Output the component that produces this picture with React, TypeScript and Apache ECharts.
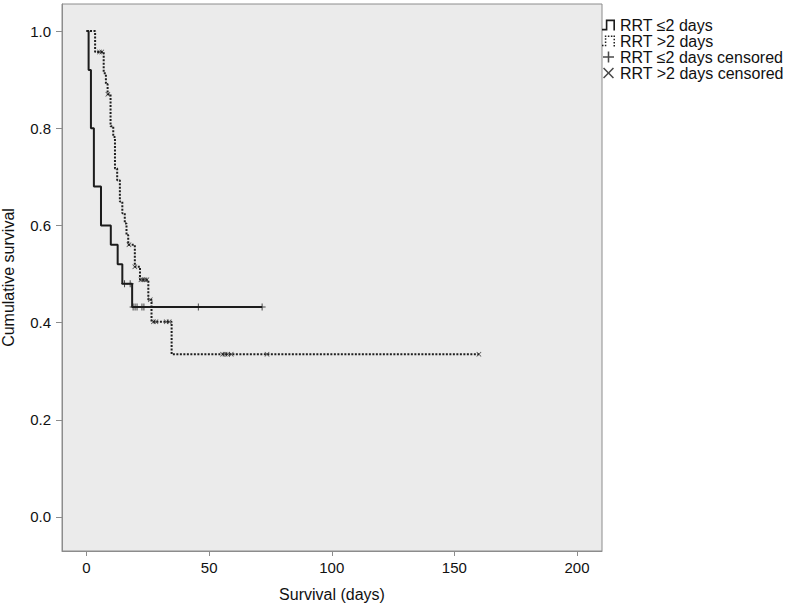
import React, { useEffect, useRef } from "react";
import * as echarts from "echarts";

// Kaplan–Meier step points (time in days, cumulative survival after that time)
const timesShort = [0, 0.85, 1.8, 3.0, 5.9, 9.9, 12.7, 14.6, 18.6, 71.6];
const survShort = [1, 0.92, 0.8, 0.68, 0.6, 0.56, 0.52, 0.48, 0.432, 0.432];

const timesLong = [0, 3.5, 7.0, 7.9, 8.6, 9.8, 10.9, 11.6, 12.5, 13.6, 14.6, 15.6, 16.3, 17.0, 19.7, 21.8, 25.2, 26.5, 34.7, 160];
const survLong = [1, 0.957, 0.913, 0.891, 0.87, 0.804, 0.782, 0.717, 0.693, 0.649, 0.625, 0.604, 0.58, 0.56, 0.515, 0.488, 0.447, 0.402, 0.335, 0.335];

// censored observations
const censShortTimes = [15.5, 17.8, 19.0, 19.8, 20.6, 22.6, 23.4, 45.6, 71.6];
const censShortSurv = [0.48, 0.48, 0.432, 0.432, 0.432, 0.432, 0.432, 0.432, 0.432];

const censLongTimes = [5.3, 6.2, 8.7, 17.3, 19.7, 22.2, 23.0, 23.8, 24.6, 26.0, 27.3, 28.3, 32.5, 33.7, 55.5, 56.5, 57.5, 59.0, 73.6, 160];
const censLongSurv = [0.957, 0.957, 0.87, 0.56, 0.515, 0.488, 0.488, 0.488, 0.488, 0.447, 0.402, 0.402, 0.402, 0.402, 0.335, 0.335, 0.335, 0.335, 0.335, 0.335];

const xTicks = [0, 50, 100, 150, 200];
const yTicks = [0, 0.2, 0.4, 0.6, 0.8, 1.0];

const seriesNames = ["RRT ≤2 days", "RRT >2 days", "RRT ≤2 days censored", "RRT >2 days censored"];

const FONT = "'Liberation Sans', Arial, sans-serif";

const PLUS = "path://M4.3,0H5.7V4.3H10V5.7H5.7V10H4.3V5.7H0V4.3H4.3Z";
const CROSS = "path://M1,0L5,4L9,0L10,1L6,5L10,9L9,10L5,6L1,10L0,9L4,5L0,1Z";
const STEP_SOLID = "path://M0,8.5H3.5V0H12V10H10.5V1.5H5V10H0Z";
const STEP_DOTTED =
  "path://M0,8.5h1.4v1.4h-1.4z M2.6,8.5h1.4v1.4h-1.4z M2.6,5.5h1.4v1.4h-1.4z M2.6,2.5h1.4v1.4h-1.4z M2.6,0h1.4v1.4h-1.4z M5.4,0h1.4v1.4h-1.4z M8.2,0h1.4v1.4h-1.4z M10.6,0h1.4v1.4h-1.4z M10.6,3h1.4v1.4h-1.4z M10.6,6h1.4v1.4h-1.4z M10.6,8.6h1.4v1.4h-1.4z";

const pairs = (xs: number[], ys: number[]) => xs.map((x, i) => [x, ys[i]]);

export default function App() {
  const ref = useRef<HTMLDivElement>(null);
  useEffect(() => {
    if (!ref.current) return;
    const chart = echarts.init(ref.current, null, { renderer: "svg" });
    chart.setOption({
      animation: false,
      backgroundColor: "#ffffff",
      textStyle: { fontFamily: FONT },
      grid: {
        left: 62,
        top: 4,
        right: 187,
        bottom: 54,
        containLabel: false,
        outerBoundsMode: "none",
        show: true,
        backgroundColor: "#ebebeb",
        borderColor: "#8c8c8c",
        borderWidth: 1,
      },
      legend: {
        orient: "vertical",
        left: 602,
        top: 17,
        itemGap: 0,
        itemWidth: 13,
        itemHeight: 11,
        padding: 0,
        textStyle: { fontSize: 16, color: "#111", fontFamily: FONT, lineHeight: 15.5 },
        data: [
          { name: seriesNames[0], icon: STEP_SOLID },
          { name: seriesNames[1], icon: STEP_DOTTED },
          { name: seriesNames[2], icon: PLUS },
          { name: seriesNames[3], icon: CROSS },
        ],
      },
      xAxis: {
        type: "value",
        min: -10,
        max: 210.2,
        name: "Survival (days)",
        nameLocation: "middle",
        nameGap: 35,
        nameTextStyle: { fontSize: 16, color: "#111", fontFamily: FONT },
        axisLine: { show: true, onZero: false, lineStyle: { color: "#8c8c8c" } },
        axisTick: { show: true, length: 5, lineStyle: { color: "#8c8c8c" }, customValues: xTicks },
        axisLabel: { fontSize: 15, color: "#111", margin: 9, customValues: xTicks, fontFamily: FONT },
        splitLine: { show: false },
      },
      yAxis: {
        type: "value",
        min: -0.07,
        max: 1.0556,
        name: "Cumulative survival",
        nameLocation: "middle",
        nameRotate: 90,
        nameGap: 46,
        nameTextStyle: { fontSize: 16, color: "#111", fontFamily: FONT },
        axisLine: { show: true, onZero: false, lineStyle: { color: "#8c8c8c" } },
        axisTick: { show: true, length: 6, lineStyle: { color: "#8c8c8c" }, customValues: yTicks },
        axisLabel: {
          fontSize: 15,
          color: "#111",
          margin: 11,
          customValues: yTicks,
          fontFamily: FONT,
          formatter: (v: number) => v.toFixed(1),
        },
        splitLine: { show: false },
      },
      series: [
        {
          name: seriesNames[0],
          type: "line",
          step: "end",
          showSymbol: false,
          symbol: "none",
          color: "#1c1c1c",
          lineStyle: { color: "#1c1c1c", width: 2 },
          data: pairs(timesShort, survShort),
          z: 3,
        },
        {
          name: seriesNames[1],
          type: "line",
          step: "end",
          showSymbol: false,
          symbol: "none",
          color: "#1f1f1f",
          lineStyle: { color: "#1f1f1f", width: 2, type: [2, 1.5] },
          data: pairs(timesLong, survLong),
          z: 2,
        },
        {
          name: seriesNames[2],
          type: "scatter",
          symbol: PLUS,
          symbolSize: 7,
          color: "#1c1c1c",
          itemStyle: { color: "#1c1c1c" },
          data: pairs(censShortTimes, censShortSurv),
          z: 4,
        },
        {
          name: seriesNames[3],
          type: "scatter",
          symbol: CROSS,
          symbolSize: 5,
          color: "#1c1c1c",
          itemStyle: { color: "#1c1c1c" },
          data: pairs(censLongTimes, censLongSurv),
          z: 4,
        },
      ],
    });
    return () => chart.dispose();
  }, []);
  return <div ref={ref} style={{ width: 789, height: 605, position: "absolute", left: 0, top: 0 }} />;
}
